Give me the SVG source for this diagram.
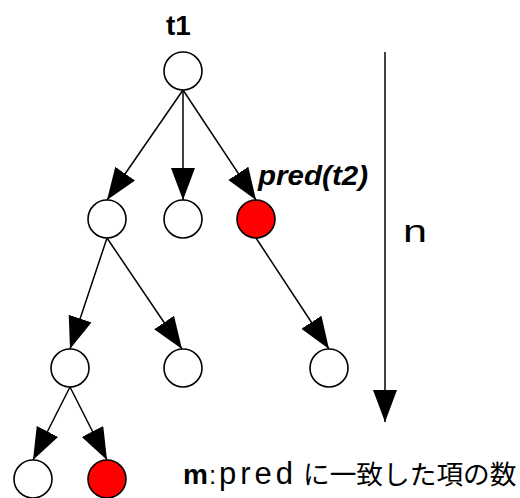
<svg xmlns="http://www.w3.org/2000/svg" width="520" height="498" viewBox="0 0 520 498">
<style>
.node{fill:#fff;stroke:#000;stroke-width:1.6}
.hit{fill:#ff0000;stroke:#000;stroke-width:1.6}
.edge{stroke:#000;stroke-width:1.5;fill:none;marker-end:url(#ah)}
.lbl{font-family:"Liberation Sans",Arial,sans-serif;fill:#000}
.jp{font-family:"Liberation Sans","Noto Sans CJK JP",sans-serif;fill:#000}
</style>
<defs>
<marker id="ah" markerUnits="userSpaceOnUse" markerWidth="34" markerHeight="26" refX="32" refY="12" orient="auto" viewBox="0 0 34 26">
<path d="M0,0 L32,12 L0,24 z" fill="#000"/>
</marker>
</defs>
<g id="connectors">
<line class="edge" x1="183" y1="90" x2="107" y2="200"/>
<line class="edge" x1="183" y1="90" x2="183" y2="200"/>
<line class="edge" x1="183" y1="90" x2="256" y2="200"/>
<line class="edge" x1="107" y1="238" x2="70" y2="349"/>
<line class="edge" x1="107" y1="238" x2="182" y2="349"/>
<line class="edge" x1="256" y1="238" x2="329" y2="349"/>
<line class="edge" x1="70" y1="387" x2="33" y2="460"/>
<line class="edge" x1="70" y1="387" x2="107" y2="460"/>
<line class="edge" x1="385" y1="52" x2="385" y2="422"/>
</g>
<g id="t1"><circle class="node" cx="183" cy="71" r="19"/><text class="lbl" x="166" y="35" font-size="28" font-weight="bold">t1</text></g>
<g id="n2a"><circle class="node" cx="107" cy="219" r="19"/></g>
<g id="n2b"><circle class="node" cx="183" cy="219" r="19"/></g>
<g id="pred_t2"><circle class="hit" cx="256" cy="219" r="19"/><text class="lbl" x="258" y="185" font-size="27" font-weight="bold" font-style="italic" textLength="110" lengthAdjust="spacingAndGlyphs">pred(t2)</text></g>
<g id="n3a"><circle class="node" cx="70" cy="368" r="19"/></g>
<g id="n3b"><circle class="node" cx="183" cy="368" r="19"/></g>
<g id="n3c"><circle class="node" cx="329" cy="368" r="19"/></g>
<g id="n4a"><circle class="node" cx="33" cy="479" r="19"/></g>
<g id="n4b"><circle class="hit" cx="107" cy="479" r="19"/></g>
<g id="n_label"><text class="lbl" x="403" y="242" font-size="32" textLength="24" lengthAdjust="spacingAndGlyphs">n</text></g>
<g id="m_label">
<text class="jp" y="484" font-size="27"><tspan x="183" font-weight="bold" font-size="28">m</tspan><tspan x="209" font-size="26">:</tspan><tspan x="219" font-size="31" letter-spacing="4">pred</tspan><tspan x="303" font-size="26.7">に一致した項の数</tspan></text>
</g>
</svg>
